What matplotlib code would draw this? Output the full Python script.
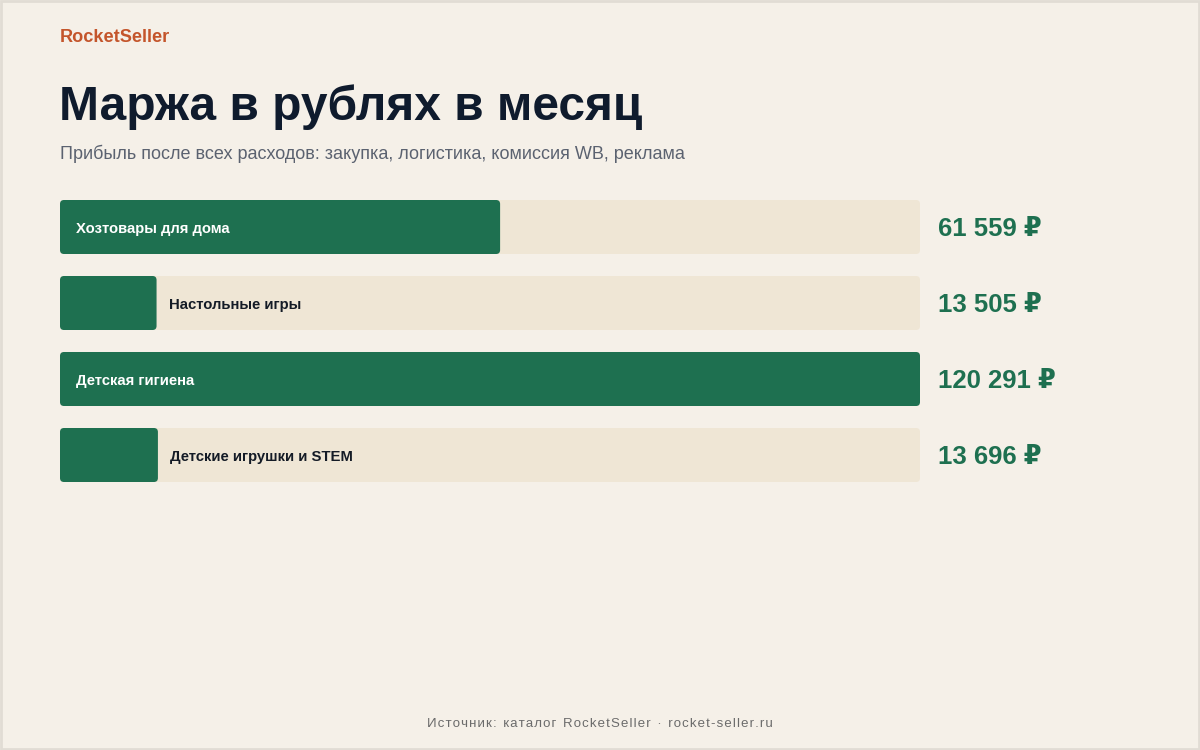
import matplotlib
matplotlib.use("Agg")
import matplotlib.pyplot as plt
from matplotlib.patches import FancyBboxPatch, Rectangle

categories = ["Хозтовары для дома", "Настольные игры", "Детская гигиена", "Детские игрушки и STEM"]
margins = [61559, 13505, 120291, 13696]

BG = "#f5f0e8"
TRACK = "#efe6d5"
GREEN = "#1e7050"
DARK = "#141b26"
W, H = 1200, 750

plt.rcParams["font.family"] = ["Liberation Sans", "DejaVu Sans"]

fig = plt.figure(figsize=(W / 100, H / 100), dpi=100, facecolor=BG)
fig.patches.append(Rectangle((1 / W, 1 / H), 1 - 2 / W, 1 - 2 / H, transform=fig.transFigure,
                             fill=False, edgecolor="#e1dcd4", lw=2))


def fx(px):
    return px / W


def fy(py):
    return 1 - py / H


fig.text(fx(60), fy(38), "RocketSeller", fontsize=13.1, weight="bold", color="#c4552b", va="center")
fig.text(fx(59), fy(107), "Маржа в рублях в месяц", fontsize=34.5, weight="bold", color="#0f1b2d", va="center")
fig.text(fx(60), fy(154), "Прибыль после всех расходов: закупка, логистика, комиссия WB, реклама",
         fontsize=13, color="#5b6270", va="center")
fig.text(0.5, fy(724), "И с т о ч н и к :   к а т а л о г   R o c k e t S e l l e r   ·   r o c k e t - s e l l e r . r u"
         .replace("   ", "\u2002").replace(" ", "\u200a"),
         fontsize=9.5, color="#6b6b6b", ha="center", va="center")

# bars axes: x 60..920 px, y 189..493 px (76 px per row)
left, right, top, bottom = 60, 920, 189, 493
ax = fig.add_axes([fx(left), fy(bottom), fx(right - left), (bottom - top) / H])
ax.set_facecolor("none")
vmax = max(margins)
ax.set_xlim(0, vmax)
ax.set_ylim(len(categories) - 0.5, -0.5)
ax.axis("off")

bh = 54 / 76
ys = list(range(len(categories)))
xpp = vmax / (right - left)          # x units per pixel
ypp = 1 / 76                         # y units per pixel
r = 4


def rounded(bars, color):
    for b in bars:
        x0, y0, w, h = b.get_x(), b.get_y(), b.get_width(), b.get_height()
        b.remove()
        ax.add_patch(FancyBboxPatch((x0, y0), w, h,
                                    boxstyle=f"round,pad=0,rounding_size={r * xpp}",
                                    mutation_aspect=ypp / xpp, facecolor=color, edgecolor="none"))


rounded(ax.barh(ys, [vmax] * len(ys), height=bh), TRACK)
rounded(ax.barh(ys, margins, height=bh), GREEN)

for y, cat, v in zip(ys, categories, margins):
    bar_px = v / xpp
    ty = y + 2 * ypp
    if bar_px > 300:
        ax.text(16 * xpp, ty, cat, color="white", fontsize=10.7, weight="bold", va="center")
    else:
        ax.text(v + 12 * xpp, ty, cat, color=DARK, fontsize=10.7, weight="bold", va="center")
    ax.text(vmax + 18 * xpp, ty, f"{v:,}".replace(",", " ") + " ₽", color=GREEN, fontsize=18.5,
            weight="bold", va="center", clip_on=False)

fig.savefig("out.png", dpi=100, facecolor=BG)
